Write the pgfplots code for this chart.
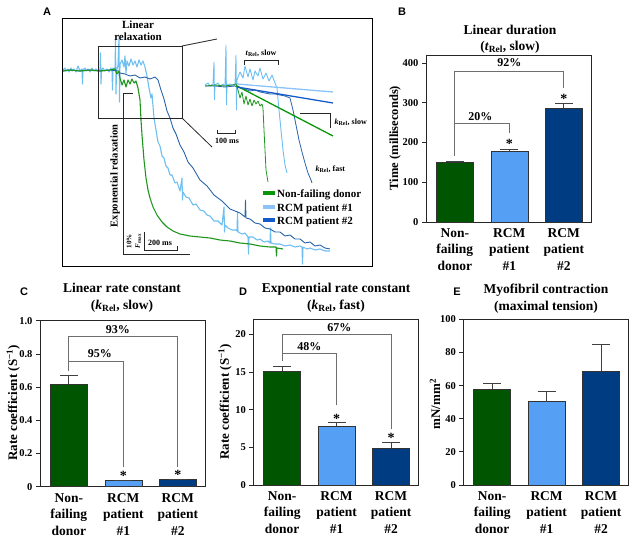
\documentclass[border=0pt]{standalone}
\usepackage{pgfplots}
\pgfplotsset{compat=1.18}
\usepackage{fontspec}
\setmainfont{Liberation Serif}
\newfontfamily\sansf{Liberation Sans}
\definecolor{cgreen}{RGB}{0,85,0}
\definecolor{clblue}{RGB}{85,160,245}
\definecolor{cdblue}{RGB}{0,60,130}
\definecolor{tgreen}{RGB}{30,150,30}
\definecolor{tlblue}{RGB}{110,190,240}
\definecolor{tdblue}{RGB}{40,100,170}
\definecolor{lgreen}{RGB}{10,150,10}
\definecolor{llblue}{RGB}{140,195,250}
\definecolor{ldblue}{RGB}{20,90,200}
\definecolor{brk}{RGB}{110,110,110}
\newcommand\tfont{\fontsize{13.5}{15}\selectfont\bfseries}
\newcommand\pfont{\fontsize{12}{13}\selectfont\bfseries}
\newcommand\sfont{\fontsize{14}{15}\selectfont\bfseries}
\newcommand\lfont{\fontsize{11}{13}\selectfont\bfseries}
\newcommand\smf{\fontsize{8}{9}\selectfont\bfseries}
\pgfplotsset{
 bp/.style={
  scale only axis, width=165pt, anchor=south west,
  xmin=-0.53, xmax=2.5, ymin=0,
  axis line style={black!85, line width=0.8pt},
  xtick={0,1,2},
  xticklabels={Non-\\failing\\donor,RCM\\patient\\\#1,RCM\\patient\\\#2},
  xticklabel style={align=center, font=\fontsize{13.5}{16.5}\selectfont\bfseries, yshift=1pt},
  xtick style={draw=none},
  ytick pos=left, tick align=outside, major tick length=4pt,
  ytick style={black!85, line width=0.8pt},
  yticklabel style={font=\fontsize{10.5}{12}\selectfont\bfseries},
  clip=false,
 },
 mybar/.style={ybar, bar shift=0pt, bar width=37pt, fill=#1, draw=black!80, line width=0.6pt,
  error bars/.cd, y dir=plus, y explicit,
  error bar style={black!75, line width=0.8pt},
  error mark options={rotate=90, mark size=9pt, black!75, line width=0.8pt}},
}
\begin{document}
\begin{tikzpicture}
\path[use as bounding box] (0,0) rectangle (635pt,-538pt);

% ---------------- Panel A ----------------
\begin{axis}[at={(62pt,-266pt)}, anchor=south west, scale only axis, width=310pt, height=248pt,
  xmin=62, xmax=372, ymin=18, ymax=266, y dir=reverse, axis lines=none, clip=false]
% main traces
\addplot[tlblue, line width=1.1pt, line join=round] coordinates {(63,70) (65,68) (66,71) (68,69) (69,72) (71,68) (72,71) (74,69) (76,72) (78,66) (80,71) (82,69) (82.5,84) (83,70) (85,68) (86,71) (88,69) (90,72) (92,68) (94,71) (96,69) (98,71) (100,70) (100.5,53) (101,84) (101.5,70) (103,68) (105,71) (107,69) (109,72) (111,68) (112,70) (112.5,90) (113,68) (115,70) (115.5,40) (116,94) (116.5,70) (118,66) (119,38) (119.5,102) (120,64) (122,60) (124,67) (125,56) (126,73) (127,61) (129,66) (131,59) (133,65) (135,61) (137,67) (139,60) (141,65) (143,61) (145,67) (147,76) (149,88) (151,98) (152,94) (154,118) (156,130) (158,142) (160,146) (162,156) (164,158) (166,166) (168,168) (170,175) (172,175) (175,183) (177,182) (180,191) (182,178) (182.5,200) (183,192) (186,197) (189,198) (193,205) (196,204) (200,210) (204,211) (207,215) (210,216) (214,221) (218,221) (222,225) (224,207) (224.5,232) (225,225) (228,228) (232,230) (236,230) (237,231) (237.5,212) (238,232) (242,234) (245,233) (248,237) (248.5,254) (249,237) (253,237) (257,240) (260,239) (264,242) (268,241) (270,243) (270.5,228) (271,243) (275,244) (280,244) (285,246) (290,245) (295,247) (300,246) (302,247) (302.5,264) (303,247) (307,249) (310,248) (315,250) (320,249) (325,251) (330,251)};
\addplot[tdblue, line width=0.9pt, line join=round] coordinates {(63,71) (70,70) (80,71) (90,70) (100,71) (110,70) (118,71) (120,73) (125,74) (130,76) (135,75) (140,78) (145,77) (150,79) (155,77) (158,80) (161,90) (164,99) (167,111) (170,118) (173,128) (176,134) (180,145) (184,152) (188,162) (193,168) (200,180) (207,186) (214,195) (222,201) (230,209) (240,213) (245,217) (245.5,200) (246,218) (250,219) (255,223) (260,224) (265,228) (270,229) (275,232) (280,232) (285,236) (290,235) (295,239) (300,239) (305,243) (310,242) (315,246) (320,245) (325,248) (330,249)};
\addplot[tgreen, line width=1.1pt, line join=round] coordinates {(63,71) (70,70) (80,71) (90,70) (100,71) (110,70) (115,69) (117,74) (119,71) (120,78) (122,85) (124,80) (126,87) (128,80) (130,84) (132,79) (134,83) (136,81) (138,88) (140,100) (141,120) (142,135) (144,160) (146,178) (148,190) (150,198) (153,207) (157,215) (162,222) (167,227) (173,231) (180,234) (190,236) (200,237) (210,238) (220,240) (230,241) (240,243) (250,244) (260,246) (270,247) (276,247) (276.5,256) (277,248) (283,249)};
% inset traces
\addplot[tlblue, line width=0.9pt, line join=round] coordinates {(205,85) (208,83) (210,86) (213,84) (214,62) (214.5,100) (215,85) (218,83) (220,86) (223,84) (225,86) (226,45) (226.5,105) (227,85) (230,84) (233,86) (235,85) (236,55) (236.5,110) (237,80) (240,72) (243,78) (245,66) (248,77) (250,69) (253,80) (255,71) (258,76) (260,68) (263,79) (266,73) (269,81) (272,75) (275,83) (277,88) (279,110) (281,130) (283,150) (285,165) (287,173)};
\addplot[tdblue, line width=0.8pt, line join=round] coordinates {(205,86) (215,86) (225,87) (235,86) (240,88) (245,89) (250,91) (255,90) (260,92) (265,93) (270,94) (275,94) (280,95) (285,96) (290,98) (293,110) (296,125) (299,140) (302,152) (305,163) (308,173) (311,180) (312,183)};
\addplot[tgreen, line width=0.8pt, line join=round] coordinates {(205,86) (215,85) (225,86) (232,85) (236,84) (238,90) (240,98) (242,92) (244,104) (246,96) (248,105) (250,99) (252,106) (254,100) (256,104) (258,101) (260,106) (262,104) (263,108) (264,130) (265,150) (266,170) (268,182)};
% fit lines
\addplot[lgreen, line width=1.3pt] coordinates {(237,86) (333,136)};
\addplot[llblue, line width=1.3pt] coordinates {(237,84) (333,92)};
\addplot[ldblue, line width=1.3pt] coordinates {(237,87) (333,103)};
\end{axis}

\begin{scope}[x=1pt,y=-1pt]
\draw[line width=1pt] (62,18) rectangle (372,266);
\draw[line width=0.8pt, black!85] (98,46) rectangle (182,118);
\draw[line width=0.8pt, black!85] (182,46) -- (217,39);
\draw[line width=0.8pt, black!85] (182,118) -- (212,147);
\node[font=\sansf\fontsize{11}{13}\selectfont\bfseries] at (47,12) {A};
\node[font=\sansf\fontsize{11}{13}\selectfont\bfseries] at (402,12) {B};
\node[font=\sansf\fontsize{11}{13}\selectfont\bfseries] at (24,292) {C};
\node[font=\sansf\fontsize{11}{13}\selectfont\bfseries] at (243,292) {D};
\node[font=\sansf\fontsize{11}{13}\selectfont\bfseries] at (457,292) {E};
\node[anchor=base, font=\lfont] at (138,28.5) {Linear};
\node[anchor=base, font=\lfont] at (138,40.5) {relaxation};
\node[rotate=90, font=\fontsize{10.5}{12}\selectfont\bfseries] at (115,176) {Exponential relaxation};
\draw[line width=0.6pt, black!85] (133,93) -- (123,93) -- (123,254) -- (190,254);
\node[rotate=90, font=\fontsize{7}{8}\selectfont\bfseries] at (129,241) {10\%};
\node[rotate=90, font=\fontsize{7}{8}\selectfont\bfseries] at (138,241) {\textit{F}\textsubscript{max}};
\draw[line width=0.6pt, black!85] (144,232) -- (144,250) -- (177,250) -- (177,246);
\node[font=\smf] at (160,243) {200 ms};
\draw[line width=0.6pt, black!85] (217,130) -- (217,133) -- (235,133) -- (235,130);
\node[font=\smf] at (227,141) {100 ms};
\node[font=\smf] at (261,53) {\textit{t}\textsubscript{Rel}, slow};
\draw[line width=0.7pt, black!85] (244,65) -- (244,60) -- (278,60) -- (278,65);
\draw[line width=0.7pt, black!85] (300,113) -- (330,113) -- (330,128);
\node[font=\smf, anchor=west] at (331,122) {\textit{k}\textsubscript{Rel}, slow};
\node[font=\smf, anchor=west] at (312,169) {\textit{k}\textsubscript{Rel}, fast};
\draw[lgreen, line width=4pt] (263,193) -- (275,193);
\draw[llblue, line width=4pt] (263,207) -- (275,207);
\draw[ldblue, line width=4pt] (263,220) -- (275,220);
\node[anchor=base west, font=\lfont, inner sep=0pt] at (277,197) {Non-failing donor};
\node[anchor=base west, font=\lfont, inner sep=0pt] at (277,211) {RCM patient \#1};
\node[anchor=base west, font=\lfont, inner sep=0pt] at (277,224) {RCM patient \#2};
% titles
\node[anchor=base, font=\tfont] at (510,34.3) {Linear duration};
\node[anchor=base, font=\tfont] at (510,50.5) {(\textit{t}\textsubscript{Rel}, slow)};
\node[anchor=base, font=\tfont] at (122,292.5) {Linear rate constant};
\node[anchor=base, font=\tfont] at (122,309) {(\textit{k}\textsubscript{Rel}, slow)};
\node[anchor=base, font=\tfont] at (336,292.5) {Exponential rate constant};
\node[anchor=base, font=\tfont] at (336,309) {(\textit{k}\textsubscript{Rel}, fast)};
\node[anchor=base, font=\tfont] at (546,293) {Myofibril contraction};
\node[anchor=base, font=\tfont] at (546,310) {(maximal tension)};
% y labels
\node[rotate=90, font=\fontsize{12.5}{14}\selectfont\bfseries] at (395,138) {Time (milliseconds)};
\node[rotate=90, font=\fontsize{13}{14}\selectfont\bfseries] at (13.3,403) {Rate coefficient (S\textsuperscript{−1})};
\node[rotate=90, font=\fontsize{13}{14}\selectfont\bfseries] at (225,402) {Rate coefficient (S\textsuperscript{−1})};
\node[rotate=90, font=\fontsize{13}{14}\selectfont\bfseries] at (435,404) {mN/mm\textsuperscript{2}};
\end{scope}

% ---------------- Panel B ----------------
\begin{axis}[bp, at={(426pt,-222pt)}, height=167pt, ymax=420,
  ytick={0,100,200,300,400}, yticklabels={0,100,200,300,400}]
\addplot[mybar=cgreen] coordinates {(0,149) +- (0,4)};
\addplot[mybar=clblue] coordinates {(1,177) +- (0,6)};
\addplot[mybar=cdblue] coordinates {(2,285) +- (0,13)};
\draw[brk, line width=0.8pt] (axis cs:0,167) |- (axis cs:2,380) -- (axis cs:2,337);
\draw[brk, line width=0.8pt] (axis cs:0,249) -| (axis cs:1,224);
\node[font=\pfont] at (axis cs:1,400) {92\%};
\node[font=\pfont] at (axis cs:0.47,265) {20\%};
\node[font=\sfont, yshift=-2pt] at (axis cs:1,202) {*};
\node[font=\sfont, yshift=-2pt] at (axis cs:2,315) {*};
\end{axis}

% ---------------- Panel C ----------------
\begin{axis}[bp, at={(40pt,-486.7pt)}, height=166pt, ymax=1.0,
  ytick={0,0.2,0.4,0.6,0.8,1.0}, yticklabels={0,0.2,0.4,0.6,0.8,1.0}]
\addplot[mybar=cgreen] coordinates {(0,0.617) +- (0,0.052)};
\addplot[mybar=clblue] coordinates {(1,0.036) +- (0,0.002)};
\addplot[mybar=cdblue] coordinates {(2,0.045) +- (0,0.002)};
\draw[brk, line width=0.8pt] (axis cs:0,0.70) |- (axis cs:2,0.904) -- (axis cs:2,0.12);
\draw[brk, line width=0.8pt] (axis cs:0,0.753) -| (axis cs:1,0.12);
\node[font=\pfont] at (axis cs:0.9,0.948) {93\%};
\node[font=\pfont] at (axis cs:0.57,0.80) {95\%};
\node[font=\sfont, yshift=-2pt] at (axis cs:1,0.077) {*};
\node[font=\sfont, yshift=-2pt] at (axis cs:2,0.085) {*};
\end{axis}

% ---------------- Panel D ----------------
\begin{axis}[bp, at={(253.3pt,-485pt)}, height=165.7pt, ymax=22,
  ytick={0,5,10,15,20}, yticklabels={0,5,10,15,20}]
\addplot[mybar=cgreen] coordinates {(0,15.1) +- (0,0.7)};
\addplot[mybar=clblue] coordinates {(1,7.8) +- (0,0.5)};
\addplot[mybar=cdblue] coordinates {(2,4.9) +- (0,0.8)};
\draw[brk, line width=0.8pt] (axis cs:0,16.4) |- (axis cs:2,20.0) -- (axis cs:2,7.4);
\draw[brk, line width=0.8pt] (axis cs:0,17.5) -| (axis cs:1,10.6);
\node[font=\pfont] at (axis cs:1.05,20.9) {67\%};
\node[font=\pfont] at (axis cs:0.5,18.4) {48\%};
\node[font=\sfont, yshift=-2pt] at (axis cs:1,9.1) {*};
\node[font=\sfont, yshift=-2pt] at (axis cs:2,6.5) {*};
\end{axis}

% ---------------- Panel E ----------------
\begin{axis}[bp, at={(463.3pt,-485pt)}, height=165.7pt, ymax=100,
  ytick={0,20,40,60,80,100}, yticklabels={0,20,40,60,80,100}]
\addplot[mybar=cgreen] coordinates {(0,58) +- (0,3.4)};
\addplot[mybar=clblue] coordinates {(1,50.3) +- (0,6.4)};
\addplot[mybar=cdblue] coordinates {(2,68.8) +- (0,16.1)};
\end{axis}
\end{tikzpicture}
\end{document}
